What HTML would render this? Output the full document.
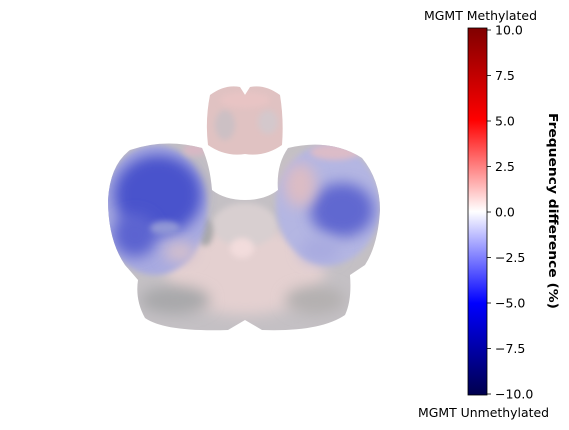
<!DOCTYPE html>
<html><head><meta charset="utf-8"><style>
html,body{margin:0;padding:0;background:#fff;width:569px;height:430px;overflow:hidden;font-family:"DejaVu Sans","Liberation Sans",sans-serif}
</style></head><body>
<svg width="569" height="430" viewBox="0 0 569 430" xmlns="http://www.w3.org/2000/svg">
<defs>
<linearGradient id="cmap" x1="0" y1="1" x2="0" y2="0">
<stop offset="0" stop-color="#00004d"/>
<stop offset="0.25" stop-color="#0000ff"/>
<stop offset="0.5" stop-color="#ffffff"/>
<stop offset="0.75" stop-color="#ff0000"/>
<stop offset="1" stop-color="#800000"/>
</linearGradient>
<filter id="bl" x="-50%" y="-50%" width="200%" height="200%"><feGaussianBlur stdDeviation="7"/></filter>
<filter id="bs" x="-50%" y="-50%" width="200%" height="200%"><feGaussianBlur stdDeviation="3"/></filter>
<clipPath id="main"><path d="M130 150 Q165 138 202 148 Q210 165 212 190 Q225 200 245 200 Q265 200 278 190 Q276 165 288 148 Q330 138 362 158 Q380 180 380 210 Q378 245 365 265 L350 275 Q352 300 345 315 Q320 332 262 330 L245 320 L228 330 Q165 332 145 318 Q135 300 138 280 L125 265 Q108 240 108 200 Q110 165 130 150Z"/></clipPath>
<clipPath id="top"><path d="M210 95 Q225 84 240 87 L245 95 L250 87 Q265 84 280 95 Q284 120 282 145 Q265 157 245 154 Q225 157 208 145 Q205 120 210 95Z"/></clipPath>
</defs>
<g>
 <g clip-path="url(#top)">
  <rect x="200" y="80" width="90" height="80" fill="#e0c2c2"/>
  <ellipse cx="225" cy="125" rx="10" ry="15" fill="#ccc0c4" filter="url(#bs)"/>
  <ellipse cx="268" cy="122" rx="10" ry="12" fill="#d4c8cc" filter="url(#bs)"/>
  <ellipse cx="245" cy="100" rx="25" ry="8" fill="#e8c4c4" filter="url(#bs)"/>
 </g>
 <g clip-path="url(#main)">
  <rect x="100" y="130" width="290" height="210" fill="#c4c0c4"/>
  <ellipse cx="245" cy="270" rx="80" ry="45" fill="#e4d0d0" filter="url(#bl)"/>
  <ellipse cx="245" cy="225" rx="32" ry="22" fill="#d8cfd0" filter="url(#bs)"/>
  <ellipse cx="242" cy="248" rx="12" ry="10" fill="#f2dcdc" filter="url(#bs)"/>
  <ellipse cx="175" cy="300" rx="35" ry="14" fill="#a8a8aa" filter="url(#bl)"/>
  <ellipse cx="315" cy="300" rx="30" ry="14" fill="#b4b0b0" filter="url(#bl)"/>
  <ellipse cx="205" cy="232" rx="8" ry="14" fill="#a8a8aa" filter="url(#bs)"/>
  <ellipse cx="155" cy="210" rx="52" ry="65" fill="#a8aae0" filter="url(#bs)"/>
  <ellipse cx="158" cy="195" rx="44" ry="40" fill="#4a52cc" filter="url(#bl)"/>
  <ellipse cx="135" cy="235" rx="22" ry="22" fill="#5c64d0" filter="url(#bl)"/>
  <ellipse cx="165" cy="228" rx="15" ry="7" fill="#9096d6" filter="url(#bs)"/>
  <ellipse cx="180" cy="252" rx="16" ry="10" fill="#d4c0cc" filter="url(#bl)"/>
  <ellipse cx="195" cy="150" rx="12" ry="6" fill="#d8b8c4" filter="url(#bs)"/>
  <ellipse cx="328" cy="205" rx="52" ry="60" fill="#b4b6e2" filter="url(#bs)"/>
  <ellipse cx="342" cy="210" rx="32" ry="27" fill="#6068d0" filter="url(#bl)"/>
  <ellipse cx="300" cy="185" rx="16" ry="22" fill="#dcbcc4" filter="url(#bl)"/>
  <ellipse cx="335" cy="152" rx="25" ry="8" fill="#dcbcc8" filter="url(#bs)"/>
  <ellipse cx="320" cy="250" rx="20" ry="12" fill="#a8aae0" filter="url(#bl)"/>
 </g>
</g>
<g id="cbar">
 <rect x="468" y="28" width="19" height="367" fill="url(#cmap)" stroke="#000" stroke-width="0.8"/>
 <text x="424" y="20" font-size="12" textLength="113" lengthAdjust="spacingAndGlyphs" fill="#000">MGMT Methylated</text>
 <text x="418" y="417" font-size="12" textLength="131" lengthAdjust="spacingAndGlyphs" fill="#000">MGMT Unmethylated</text>
 <text transform="translate(549,211) rotate(90)" font-size="12.5" font-weight="bold" text-anchor="middle" textLength="196" lengthAdjust="spacingAndGlyphs" fill="#000">Frequency difference (%)</text>
</g>
</svg>
<script>
const tickValues=[-10,-7.5,-5,-2.5,0,2.5,5,7.5,10];
const tickLabels=["\u221210.0","\u22127.5","\u22125.0","\u22122.5","0.0","2.5","5.0","7.5","10.0"];
const vmin=-10, vmax=10;
function yScale(v){return 394-(v-vmin)/(vmax-vmin)*(394-30);}
const cb=document.getElementById('cbar');
const ns='http://www.w3.org/2000/svg';
tickValues.forEach((v,i)=>{
 const y=yScale(v);
 const l=document.createElementNS(ns,'line');
 l.setAttribute('x1',487);l.setAttribute('x2',491);l.setAttribute('y1',y);l.setAttribute('y2',y);
 l.setAttribute('stroke','#000');l.setAttribute('stroke-width','0.8');
 
 
 cb.appendChild(l);
 const t=document.createElementNS(ns,'text');
 t.setAttribute('x',495);t.setAttribute('y',y+4.5);t.setAttribute('font-size','12.5');t.setAttribute('fill','#000');
 t.textContent=tickLabels[i];
 
 
 cb.appendChild(t);
});
</script>
</body></html>
